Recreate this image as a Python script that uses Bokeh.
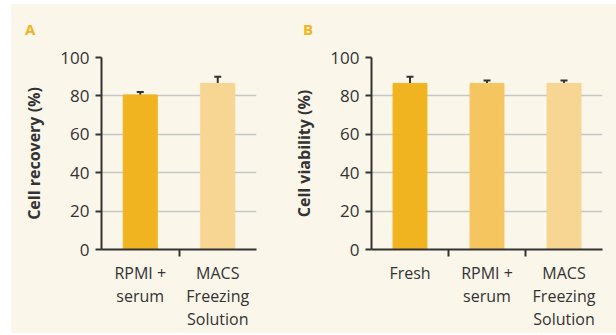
from bokeh.plotting import figure
from bokeh.layouts import row, column
from bokeh.models import Range1d, FixedTicker, ColumnDataSource, Whisker, TeeHead, Spacer, Div
from bokeh.embed import file_html
from bokeh.resources import INLINE

# Data
cats_a = ["RPMI +\nserum", "MACS\nFreezing\nSolution"]
recovery = [80.5, 86.5]
recovery_err_top = [82.0, 90.0]
colors_a = ["#F0B421", "#F7D593"]

cats_b = ["Fresh", "RPMI +\nserum", "MACS\nFreezing\nSolution"]
viability = [86.5, 86.5, 86.5]
viability_err_top = [90.0, 88.0, 88.0]
colors_b = ["#F0B421", "#F5C55F", "#F7D593"]

y_ticks = [0, 20, 40, 60, 80, 100]

BG = "#FBF6EA"
INK = "#333333"
GOLD = "#F0B421"
FONT = "Open Sans"
HEAD_H = 36
FIG_H = 329 - HEAD_H
TOP = 53 - HEAD_H


def make_panel(cats, vals, tops, colors, ylabel, width, left, frame_w):
    n = len(cats)
    xs = list(range(n))
    p = figure(width=width, height=FIG_H, frame_width=frame_w, frame_height=192,
               x_range=Range1d(-0.5, n - 0.5), y_range=Range1d(0, 100),
               output_backend="svg", toolbar_location=None,
               min_border_left=left, min_border_right=width - left - frame_w,
               min_border_top=TOP, min_border_bottom=FIG_H - TOP - 192)
    p.background_fill_color = BG
    p.border_fill_color = BG
    p.outline_line_color = None

    src = ColumnDataSource(dict(x=xs, top=vals, hi=tops, color=colors))
    p.vbar(x="x", top="top", width=0.44, color="color", source=src)
    p.add_layout(Whisker(source=src, base="x", lower="top", upper="hi",
                         line_color=INK, line_width=2,
                         upper_head=TeeHead(size=7, line_color=INK, line_width=2),
                         lower_head=None))

    # x axis: labels at centres, ticks at boundaries
    p.xaxis.ticker = FixedTicker(ticks=xs, minor_ticks=[i + 0.5 for i in xs[:-1]])
    p.xaxis.major_label_overrides = {i: c for i, c in zip(xs, cats)}
    p.xaxis.major_tick_out = 0
    p.xaxis.major_tick_in = 0
    p.xaxis.minor_tick_out = 7
    p.xaxis.minor_tick_in = 0
    p.xaxis.minor_tick_line_color = INK
    p.xaxis.minor_tick_line_width = 2
    p.xaxis.major_label_standoff = 5
    p.xaxis.major_label_text_font = FONT
    p.xaxis.major_label_text_font_size = "16px"
    p.xaxis.major_label_text_color = INK
    p.xaxis.major_label_text_line_height = 1.05

    p.yaxis.ticker = FixedTicker(ticks=y_ticks)
    p.yaxis.major_tick_out = 6
    p.yaxis.major_tick_in = 0
    p.yaxis.minor_tick_out = 0
    p.yaxis.major_tick_line_color = INK
    p.yaxis.major_tick_line_width = 2
    p.yaxis.major_label_standoff = 6
    p.yaxis.major_label_text_font = FONT
    p.yaxis.major_label_text_font_size = "17px"
    p.yaxis.major_label_text_color = INK
    p.yaxis.axis_label = ylabel
    p.yaxis.axis_label_text_font = FONT
    p.yaxis.axis_label_text_font_style = "bold"
    p.yaxis.axis_label_text_font_size = "16px"
    p.yaxis.axis_label_text_color = INK
    p.yaxis.axis_label_standoff = 12

    for ax in (p.xaxis, p.yaxis):
        ax.axis_line_color = INK
        ax.axis_line_width = 2

    p.xgrid.grid_line_color = None
    p.ygrid.ticker = FixedTicker(ticks=y_ticks[1:])
    p.ygrid.grid_line_color = "#C4C6C8"
    p.ygrid.grid_line_width = 1.5
    return p


def letter_div(letter, width, pad_left):
    return Div(text=letter, width=width, height=HEAD_H, margin=0,
               styles={"background-color": BG, "color": GOLD, "font-family": FONT,
                       "font-weight": "bold", "font-size": "15px", "line-height": "1",
                       "padding-left": f"{pad_left}px", "padding-top": "18px",
                       "box-sizing": "border-box"})


pa = make_panel(cats_a, recovery, recovery_err_top, colors_a,
                "Cell recovery (%)", 279, 90, 155)
pb = make_panel(cats_b, viability, viability_err_top, colors_b,
                "Cell viability (%)", 326, 81, 231)

col_a = column(letter_div("A", 279, 14), pa)
col_b = column(letter_div("B", 326, 13), pb)

inner = row(col_a, col_b, styles={"background-color": BG})
layout = column(Spacer(height=4), row(Spacer(width=11), inner))
open("out.html", "w").write(file_html(layout, INLINE))
